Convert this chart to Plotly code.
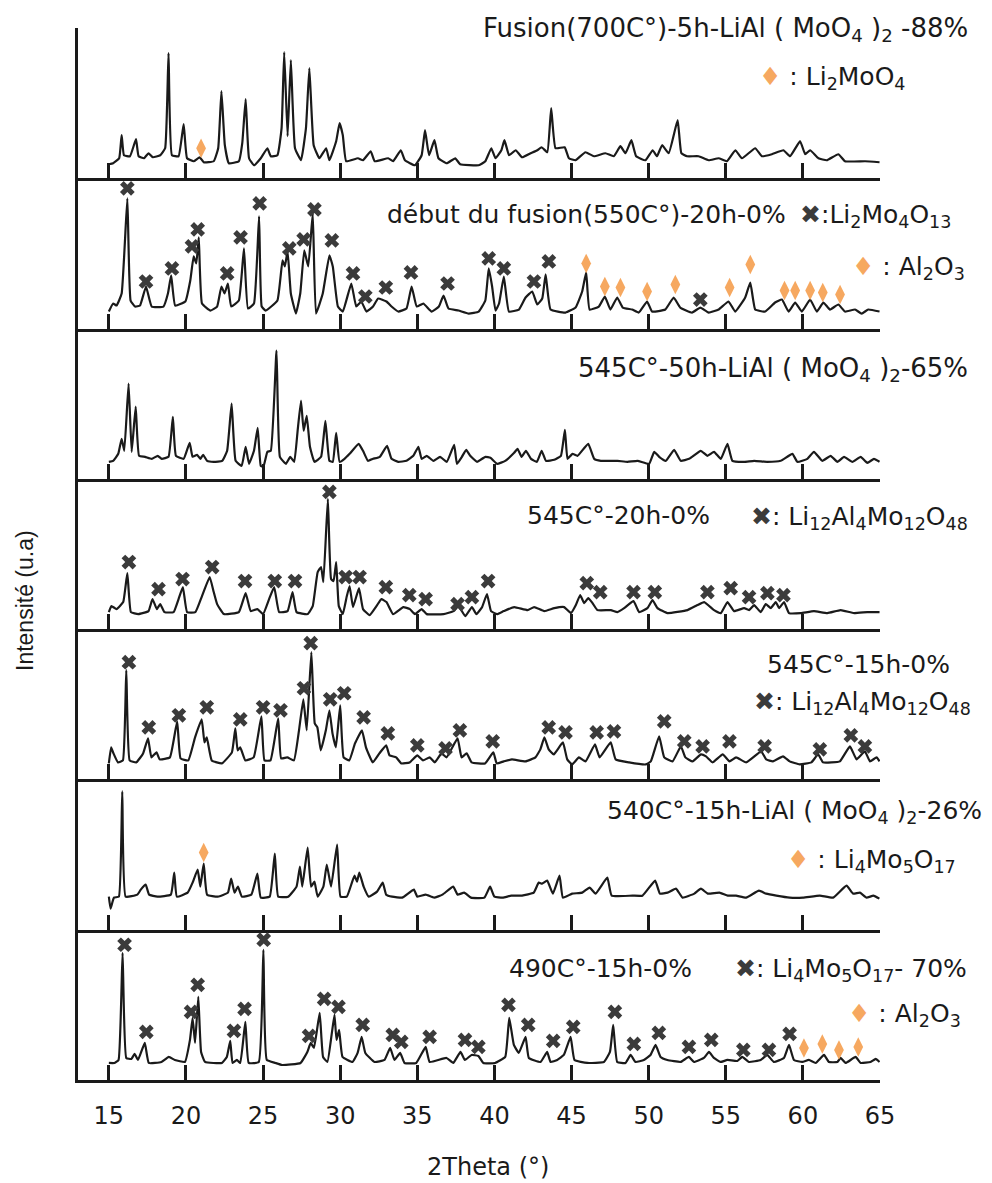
import plotly.graph_objects as go
from plotly.subplots import make_subplots

# ---------------- data (2theta, intensity in arbitrary units) ----------------
tick_vals = [15, 20, 25, 30, 35, 40, 45, 50, 55, 60, 65]

p1 = [(15.0,14),(15.28,15),(15.67,20),(15.83,43),(15.98,23),(16.37,22),(16.76,39),(16.93,22),(17.28,20),(17.57,25),(17.85,21),(18.33,23),(18.65,30),(18.87,125),(19.09,23),(19.52,22),(19.85,54),(20.07,20),(20.5,17),(20.89,21),(21.15,16),(21.8,17),(22.09,30),(22.3,87),(22.52,33),(22.78,15),(23.43,17),(23.65,35),(23.87,79),(24.09,20),(24.41,13),(24.85,20),(25.28,30),(25.5,22),(25.93,23),(26.2,50),(26.37,126),(26.59,42),(26.8,118),(27.07,30),(27.46,18),(27.78,50),(28.0,110),(28.28,33),(28.65,20),(29.09,30),(29.3,18),(29.74,37),(29.96,55),(30.17,43),(30.39,17),(31.15,20),(31.48,18),(31.98,27),(32.24,17),(33.11,20),(33.43,17),(33.93,28),(34.2,18),(34.85,13),(35.28,23),(35.5,48),(35.76,23),(36.11,38),(36.37,20),(36.91,15),(37.46,20),(37.78,14),(38.98,13),(39.41,17),(39.8,30),(40.07,20),(40.45,28),(40.65,38),(40.95,23),(41.38,28),(41.8,21),(42.35,25),(42.78,28),(43.06,31),(43.43,26),(43.68,70),(43.96,30),(44.55,31),(44.83,20),(45.26,18),(45.9,26),(46.45,22),(47.2,25),(47.74,22),(48.17,32),(48.5,25),(48.88,38),(49.19,22),(49.79,18),(50.26,28),(50.54,22),(50.87,33),(51.3,25),(51.88,58),(52.12,25),(52.49,22),(53.24,22),(53.89,18),(54.54,20),(55.08,17),(55.62,28),(56.05,20),(56.91,30),(57.34,22),(57.99,24),(58.74,28),(59.17,22),(59.82,37),(60.15,24),(60.47,28),(61.01,20),(61.55,18),(62.3,24),(62.73,17),(64.03,17),(64.97,16)]
p1_cross = []
p1_diamond = [(20.98,30)]

p2 = [(15.0,17),(15.28,25),(15.5,23),(15.83,35),(16.2,130),(16.41,28),(16.7,22),(17.02,23),(17.41,42),(17.78,22),(18.54,22),(18.83,35),(19.04,53),(19.3,23),(19.96,27),(20.28,48),(20.5,72),(20.67,65),(20.83,91),(21.04,25),(21.59,18),(22.02,22),(22.3,42),(22.5,35),(22.72,45),(22.93,22),(23.43,28),(23.76,80),(24.02,20),(24.41,25),(24.74,112),(24.91,22),(25.17,18),(25.93,28),(26.26,68),(26.41,62),(26.59,77),(26.8,35),(27.13,15),(27.41,35),(27.67,78),(27.93,62),(28.22,115),(28.43,15),(28.87,35),(29.3,73),(29.52,62),(29.85,22),(30.17,17),(30.72,45),(31.04,22),(31.37,27),(31.7,17),(32.13,22),(32.46,30),(33.0,27),(33.33,22),(33.76,17),(34.3,20),(34.63,42),(34.96,22),(35.39,25),(35.93,17),(36.4,22),(36.7,33),(37.02,20),(37.67,18),(38.33,15),(38.98,17),(39.41,28),(39.63,60),(39.85,42),(40.07,18),(40.3,25),(40.61,52),(40.94,17),(41.59,19),(42.02,31),(42.45,37),(42.78,24),(43.1,30),(43.32,54),(43.64,19),(44.61,16),(45.26,21),(45.69,37),(45.95,56),(46.17,19),(46.77,22),(47.16,32),(47.52,19),(47.96,31),(48.32,21),(48.93,19),(49.36,16),(49.9,27),(50.22,17),(51.08,19),(51.62,31),(52.05,21),(52.81,16),(53.35,21),(53.89,16),(54.54,19),(55.18,27),(55.61,17),(56.26,31),(56.59,46),(56.91,19),(57.56,17),(58.2,26),(58.64,29),(59.07,17),(59.5,26),(59.93,17),(60.47,29),(60.9,17),(61.33,26),(61.76,19),(62.3,24),(62.73,17),(63.38,19),(63.81,15),(64.24,19),(64.97,17)]
p2_cross = [(16.2,140),(17.41,47),(19.09,60),(20.39,82),(20.76,99),(22.67,55),(23.54,91),(24.78,125),(26.7,80),(27.63,89),(28.33,119),(29.46,88),(30.83,55),(31.63,32),(32.96,41),(34.59,56),(36.96,45),(39.63,70),(40.61,60),(42.56,47),(43.53,67),(53.35,29)]
p2_diamond = [(45.95,65),(47.16,42),(48.17,41),(49.9,37),(51.73,44),(55.25,41),(56.59,64),(58.81,38),(59.5,38),(60.47,38),(61.29,36),(62.41,34)]

p3 = [(15.0,17),(15.28,18),(15.61,25),(15.83,40),(16.0,28),(16.28,95),(16.48,27),(16.74,72),(16.96,23),(17.35,22),(17.78,20),(18.17,23),(18.43,20),(18.87,22),(19.15,62),(19.35,23),(19.85,20),(20.24,36),(20.43,22),(20.72,24),(20.93,20),(21.11,24),(21.37,18),(21.8,17),(22.35,18),(22.67,28),(22.96,75),(23.22,18),(23.61,13),(23.87,32),(24.09,15),(24.41,28),(24.65,51),(24.85,13),(25.02,12),(25.28,27),(25.5,28),(25.87,128),(26.09,22),(26.48,15),(26.76,22),(27.02,17),(27.24,48),(27.46,78),(27.63,48),(27.83,63),(28.04,32),(28.33,17),(28.76,22),(29.04,58),(29.3,18),(29.52,17),(29.74,46),(29.96,17),(30.28,20),(30.61,25),(31.2,35),(31.48,28),(31.8,18),(32.13,20),(32.57,22),(33.04,33),(33.33,20),(33.76,17),(34.3,18),(34.74,23),(35.07,32),(35.28,20),(35.61,23),(36.04,18),(36.48,22),(36.91,17),(37.39,34),(37.57,15),(37.89,22),(38.17,29),(38.43,23),(38.87,17),(39.41,22),(39.74,21),(40.17,15),(40.7,18),(41.28,26),(41.5,30),(41.76,22),(42.04,28),(42.37,20),(42.75,17),(43.06,28),(43.34,18),(43.88,19),(44.31,23),(44.57,49),(44.74,20),(45.06,25),(45.39,23),(46.08,35),(46.47,20),(46.9,18),(47.55,18),(47.98,18),(48.63,17),(49.28,18),(50.03,15),(50.36,27),(50.68,22),(51.11,18),(51.65,29),(52.08,18),(52.62,20),(53.38,28),(53.81,23),(54.24,27),(54.68,20),(55.11,35),(55.43,18),(56.19,17),(56.84,18),(57.7,17),(58.56,18),(59.32,25),(59.64,17),(60.29,20),(60.72,27),(61.26,18),(61.8,23),(62.24,17),(62.67,22),(63.21,17),(63.75,22),(64.18,16),(64.61,20),(64.97,17)]
p3_cross = []
p3_diamond = []

p4 = [(15.0,17),(15.17,23),(15.5,20),(15.93,27),(16.2,56),(16.43,17),(16.91,15),(17.57,18),(17.83,30),(18.11,20),(18.33,25),(18.61,17),(19.2,17),(19.52,30),(19.8,42),(20.07,17),(20.61,17),(21.04,33),(21.54,52),(21.8,37),(22.02,25),(22.46,15),(23.43,17),(23.87,36),(24.2,18),(24.63,20),(25.0,15),(25.39,30),(25.72,42),(26.04,17),(26.59,18),(26.91,37),(27.17,17),(27.89,15),(28.22,23),(28.54,57),(28.76,62),(28.91,47),(29.2,130),(29.41,50),(29.57,48),(29.74,67),(29.91,23),(30.17,15),(30.43,33),(30.61,43),(30.83,22),(31.22,41),(31.48,20),(31.91,14),(32.35,23),(32.67,30),(33.0,27),(33.43,15),(34.09,22),(34.52,20),(34.85,15),(35.28,20),(35.61,15),(36.7,15),(37.35,18),(37.67,23),(38.11,13),(38.54,22),(38.83,15),(39.2,22),(39.52,35),(39.78,18),(40.17,15),(40.6,18),(41.28,22),(42.15,19),(42.58,22),(43.23,18),(43.88,21),(44.52,22),(44.96,16),(45.28,24),(45.56,34),(45.82,26),(46.08,31),(46.36,26),(46.68,19),(47.55,19),(47.98,17),(48.41,21),(49.02,28),(49.38,17),(49.92,21),(50.25,29),(50.57,21),(51.22,16),(52.52,19),(53.16,24),(53.6,27),(54.24,19),(54.68,16),(55.11,27),(55.54,18),(56.19,21),(56.51,19),(56.84,24),(57.27,17),(57.59,25),(57.92,21),(58.24,27),(58.46,21),(58.78,27),(59.1,16),(59.86,16),(60.72,18),(61.59,16),(62.45,19),(63.32,16),(64.18,17),(64.97,17)]
p4_cross = [(16.3,67),(18.22,40),(19.78,50),(21.7,62),(23.83,48),(25.76,48),(27.07,48),(29.3,137),(30.35,52),(31.26,52),(32.96,42),(34.48,34),(35.54,30),(37.61,25),(38.54,32),(39.59,48),(45.99,46),(46.86,37),(49.02,37),(50.4,37),(53.81,37),(55.32,41),(56.51,32),(57.7,36),(58.74,34)]
p4_diamond = []

p5 = [(15.0,16),(15.15,32),(15.3,26),(15.59,17),(15.91,19),(16.13,109),(16.35,19),(16.78,17),(17.22,26),(17.54,41),(17.76,22),(18.09,27),(18.3,20),(18.96,22),(19.43,58),(19.65,21),(20.15,19),(20.59,42),(21.02,60),(21.2,37),(21.35,42),(21.67,19),(22.33,16),(22.98,27),(23.2,51),(23.35,29),(23.52,32),(23.85,19),(24.39,22),(24.89,63),(25.09,19),(25.48,19),(25.98,61),(26.17,21),(26.57,22),(27.0,19),(27.33,49),(27.61,80),(27.83,49),(28.13,127),(28.35,56),(28.52,52),(28.74,29),(29.07,49),(29.3,69),(29.5,46),(29.72,32),(30.0,74),(30.22,22),(30.59,19),(30.96,36),(31.41,49),(31.67,32),(32.11,17),(32.54,26),(32.98,34),(33.2,24),(33.63,22),(33.96,16),(34.5,17),(35.0,24),(35.37,19),(35.8,22),(36.13,17),(36.57,26),(36.89,22),(37.61,41),(37.87,22),(38.2,26),(38.52,17),(39.39,16),(39.93,27),(40.15,16),(40.6,18),(41.14,20),(42.01,18),(42.66,22),(42.98,30),(43.24,42),(43.52,30),(43.85,25),(44.44,37),(44.72,20),(45.04,15),(45.48,22),(45.91,18),(46.52,35),(46.82,22),(47.54,37),(47.86,20),(48.73,17),(49.82,15),(50.14,18),(50.68,43),(51.01,22),(51.55,18),(52.09,33),(52.38,22),(52.85,18),(53.39,25),(53.72,23),(54.15,17),(54.8,25),(55.24,18),(55.67,22),(56.32,17),(57.3,28),(57.62,20),(58.06,18),(58.71,23),(59.14,18),(59.79,15),(60.55,17),(60.99,25),(61.31,17),(61.85,17),(62.4,18),(63.05,33),(63.48,20),(64.02,28),(64.35,18),(64.78,22),(64.97,18)]
p5_cross = [(16.3,117),(17.59,52),(19.54,64),(21.35,72),(23.52,60),(25.0,72),(26.13,69),(27.65,91),(28.09,136),(29.35,80),(30.26,86),(31.52,62),(33.09,46),(35.0,34),(36.83,31),(37.76,49),(39.89,38),(43.52,52),(44.61,47),(46.63,47),(47.75,48),(51.01,58),(52.31,38),(53.5,33),(55.24,38),(57.52,33),(61.1,30),(63.11,44),(64.02,33)]
p5_diamond = []

p6 = [(15.0,33),(15.11,21),(15.33,32),(15.65,33),(15.87,138),(16.09,33),(16.85,35),(17.07,40),(17.39,45),(17.61,35),(18.15,33),(19.02,35),(19.24,57),(19.41,33),(20.11,37),(20.43,47),(20.76,60),(20.93,43),(21.15,66),(21.37,35),(22.07,33),(22.72,37),(22.93,51),(23.15,37),(23.37,43),(23.63,33),(24.24,35),(24.63,56),(24.85,32),(25.43,33),(25.76,76),(25.98,33),(26.63,33),(27.17,43),(27.39,63),(27.54,43),(27.89,82),(28.11,43),(28.33,48),(28.54,33),(28.91,43),(29.13,65),(29.41,43),(29.8,85),(30.02,33),(30.43,33),(30.76,47),(30.93,54),(31.09,48),(31.24,57),(31.52,43),(31.85,33),(32.39,38),(32.76,47),(32.98,35),(33.37,33),(34.02,32),(34.78,40),(35.0,33),(35.54,35),(36.09,32),(36.63,35),(37.33,43),(37.61,35),(38.04,37),(38.48,32),(39.35,32),(39.72,43),(40.0,33),(40.54,32),(41.09,34),(41.79,34),(42.55,37),(42.87,47),(43.09,46),(43.42,49),(43.79,36),(44.22,54),(44.44,32),(45.04,36),(45.69,37),(46.17,42),(46.56,36),(47.32,52),(47.6,34),(48.95,34),(49.6,34),(50.42,49),(50.73,36),(51.23,37),(51.77,41),(52.2,32),(52.96,36),(53.39,41),(53.83,36),(54.59,37),(55.13,34),(55.67,34),(56.32,32),(57.15,39),(57.62,36),(58.28,34),(59.14,32),(60.01,32),(61.1,34),(61.96,32),(62.83,44),(63.26,36),(63.7,37),(64.13,32),(64.57,34),(64.96,31)]
p6_cross = []
p6_diamond = [(21.15,77)]

p7 = [(15.0,17),(15.37,17),(15.63,20),(15.89,127),(16.13,22),(16.46,21),(16.67,26),(16.89,20),(17.33,37),(17.59,17),(18.41,18),(18.89,23),(19.28,20),(19.93,18),(20.26,40),(20.43,62),(20.59,37),(20.8,83),(20.98,28),(21.24,18),(22.33,17),(22.65,23),(22.87,39),(23.02,17),(23.3,20),(23.52,17),(23.85,58),(24.07,17),(24.72,18),(25.02,130),(25.24,20),(25.8,17),(26.24,15),(27.43,17),(27.87,28),(28.09,37),(28.3,32),(28.67,67),(28.89,23),(29.17,18),(29.46,47),(29.63,65),(29.76,40),(29.93,50),(30.15,23),(30.8,18),(31.13,27),(31.39,43),(31.63,27),(32.22,18),(32.87,20),(33.24,32),(33.52,20),(33.89,27),(34.17,17),(34.93,17),(35.54,33),(35.8,18),(36.89,22),(37.33,17),(37.8,28),(38.09,20),(38.52,25),(38.96,24),(39.28,17),(40.04,17),(40.7,23),(40.96,62),(41.26,35),(41.58,27),(42.02,43),(42.23,22),(42.99,18),(43.42,28),(43.64,18),(44.07,20),(44.5,25),(44.94,43),(45.19,20),(46.02,17),(47.1,18),(47.49,28),(47.7,55),(47.96,18),(48.5,17),(48.83,25),(49.15,18),(49.69,20),(50.12,25),(50.45,35),(50.77,23),(51.21,20),(52.07,18),(52.61,23),(52.94,18),(53.58,22),(53.91,28),(54.23,22),(54.66,18),(55.1,20),(55.75,19),(56.07,23),(56.5,18),(57.26,20),(57.69,25),(58.12,18),(58.77,22),(59.1,35),(59.42,20),(59.96,18),(60.39,20),(60.83,17),(61.37,25),(61.69,18),(62.23,18),(62.45,22),(62.77,17),(63.42,23),(63.75,17),(64.39,18),(64.72,21),(64.97,18)]
p7_cross = [(16.02,135),(17.43,48),(20.33,68),(20.76,95),(23.11,49),(23.8,71),(25.04,140),(27.98,44),(28.96,81),(29.89,73),(31.46,55),(33.41,45),(33.96,38),(35.8,43),(38.09,40),(38.96,33),(40.91,75),(42.19,55),(43.81,39),(45.11,53),(47.81,68),(49.04,36),(50.66,47),(52.61,33),(54.06,40),(56.14,30),(57.8,30),(59.14,46)]
p7_diamond = [(60.07,32),(61.26,36),(62.34,30),(63.59,33)]

panels = [(p1, p1_cross, p1_diamond), (p2, p2_cross, p2_diamond), (p3, p3_cross, p3_diamond),
          (p4, p4_cross, p4_diamond), (p5, p5_cross, p5_diamond), (p6, p6_cross, p6_diamond),
          (p7, p7_cross, p7_diamond)]

# ---------------- styles ----------------
INK = "#1a1a1a"
CROSS = "#3b3b3b"
ORANGE = "#F6A860"
FONT = "DejaVu Sans"

fig = make_subplots(rows=7, cols=1, shared_xaxes=True, vertical_spacing=0)

for i, (pat, cr, dm) in enumerate(panels, start=1):
    xs, ys = zip(*pat)
    fig.add_trace(go.Scatter(x=xs, y=ys, mode="lines",
                             line=dict(color=INK, width=2.2, shape="spline", smoothing=0.35),
                             showlegend=False, hoverinfo="skip"), row=i, col=1)
    if cr:
        cx, cy = zip(*cr)
        fig.add_trace(go.Scatter(x=cx, y=cy, mode="markers", cliponaxis=False,
                                 marker=dict(symbol="x", size=13, color=CROSS, line=dict(width=0)),
                                 showlegend=False, hoverinfo="skip"), row=i, col=1)
    if dm:
        dx, dy = zip(*dm)
        fig.add_trace(go.Scatter(x=dx, y=dy, mode="markers", cliponaxis=False,
                                 marker=dict(symbol="diamond-tall", size=14, color=ORANGE, line=dict(width=0)),
                                 showlegend=False, hoverinfo="skip"), row=i, col=1)

fig.update_xaxes(range=[13, 65], tickvals=tick_vals, ticks="inside", ticklen=15, tickwidth=2.5,
                 tickcolor=INK, showline=True, linecolor=INK, linewidth=3, showgrid=False,
                 zeroline=False, showticklabels=False)
fig.update_xaxes(showticklabels=True, tickfont=dict(family=FONT, size=24, color=INK),
                 ticklabelstandoff=12, row=7, col=1)
fig.update_yaxes(range=[0, 150], showline=True, linecolor=INK, linewidth=3, showticklabels=False,
                 ticks="", showgrid=False, zeroline=False)

# target plot-area edges in the final page (page body adds an 8px offset)
OFF = 8
L, R, T, B = 78, 880, 28, 1080
W, H = 992 - OFF, 1183 - OFF
def px(xp):
    return (xp - L) / (R - L)
def py(yp):
    return (B - yp) / (B - T)

dia = f"<span style='color:{ORANGE}'>♦</span>"
crs = f"<span style='color:{CROSS}'>✖</span>"

labels = [
    ("Fusion(700C°)-5h-LiAl ( MoO<sub>4</sub> )<sub>2</sub> -88%", 970, 30, "right", 26),
    (dia + " : Li<sub>2</sub>MoO<sub>4</sub>", 907, 78, "right", 25),
    ("début du fusion(550C°)-20h-0%", 788, 214, "right", 25),
    (crs + ":Li<sub>2</sub>Mo<sub>4</sub>O<sub>13</sub>", 798, 216, "left", 25),
    (dia + " : Al<sub>2</sub>O<sub>3</sub>", 967, 268, "right", 25),
    ("545C°-50h-LiAl ( MoO<sub>4</sub> )<sub>2</sub>-65%", 970, 370, "right", 26),
    ("545C°-20h-0%", 525, 516, "left", 25),
    (crs + ": Li<sub>12</sub>Al<sub>4</sub>Mo<sub>12</sub>O<sub>48</sub>", 970, 518, "right", 25),
    ("545C°-15h-0%", 952, 664, "right", 25),
    (crs + ": Li<sub>12</sub>Al<sub>4</sub>Mo<sub>12</sub>O<sub>48</sub>", 973, 703, "right", 25),
    ("540C°-15h-LiAl ( MoO<sub>4</sub> )<sub>2</sub>-26%", 984, 812, "right", 25),
    (dia + " : Li<sub>4</sub>Mo<sub>5</sub>O<sub>17</sub>", 958, 861, "right", 25),
    ("490C°-15h-0%", 507, 968, "left", 25),
    (crs + ": Li<sub>4</sub>Mo<sub>5</sub>O<sub>17</sub>- 70%", 733, 970, "left", 25),
    (dia + " : Al<sub>2</sub>O<sub>3</sub>", 963, 1015, "right", 25),
]
for text, xp, yp, anchor, fs in labels:
    fig.add_annotation(text=text, x=px(xp), y=py(yp), xref="paper", yref="paper",
                       xanchor=anchor, yanchor="middle", showarrow=False,
                       font=dict(family=FONT, size=fs, color=INK))

fig.add_annotation(text="2Theta (°)", x=px(488), y=py(1167), xref="paper", yref="paper",
                   xanchor="center", yanchor="middle", showarrow=False,
                   font=dict(family=FONT, size=24, color=INK))
fig.add_annotation(text="Intensité (u.a)", x=px(25), y=py(600), xref="paper", yref="paper",
                   xanchor="center", yanchor="middle", showarrow=False, textangle=-90,
                   font=dict(family="Liberation Sans", size=23, color=INK))

fig.update_layout(width=W, height=H,
                  margin=dict(l=L - OFF, r=W - (R - OFF), t=T - OFF, b=H - (B - OFF)),
                  plot_bgcolor="white", paper_bgcolor="white", showlegend=False)

fig.write_html("out.html")
